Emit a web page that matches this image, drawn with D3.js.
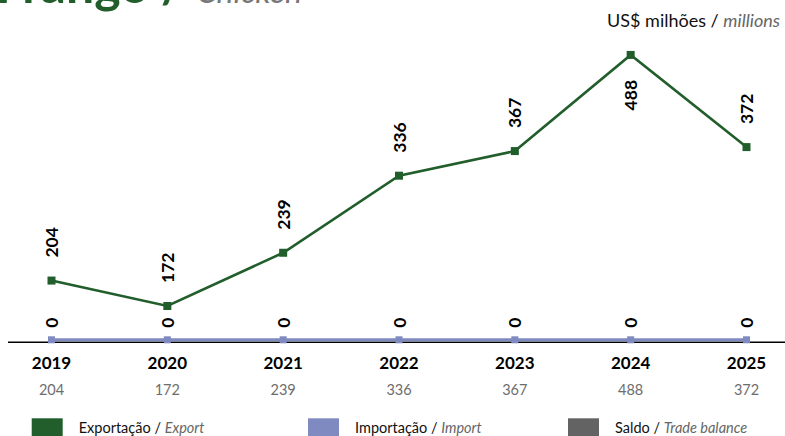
<!DOCTYPE html>
<html>
<head>
<meta charset="utf-8">
<script src="https://cdn.jsdelivr.net/npm/d3@7"></script>
<style>
  html, body { margin: 0; padding: 0; background: #fff; }
  svg { display: block; font-family: Lato, "Open Sans", sans-serif; }
</style>
</head>
<body>
<svg id="chart" width="785" height="436"></svg>
<script>
// Chicken trade, US$ millions
const years = ["2019", "2020", "2021", "2022", "2023", "2024", "2025"];
const exportValues = [204, 172, 239, 336, 367, 488, 372];
const importValues = [0, 0, 0, 0, 0, 0, 0];
const balanceValues = [204, 172, 239, 336, 367, 488, 372];

const legendLabels = [
  { pt: "Exportação / ", en: "Export" },
  { pt: "Importação / ", en: "Import" },
  { pt: "Saldo / ", en: "Trade balance" }
];

const colors = { export: "#215E2B", import: "#7F8AC0", balance: "#636363" };

const svg = d3.select("#chart");
const W = 785;

const x = d3.scalePoint().domain(years).range([51.5, 746.5]);
// export series on its own value axis, import series on a secondary axis
const yExp = d3.scaleLinear().domain([120, 500]).range([347.3, 45.4]);
const yImp = d3.scaleLinear().domain([0, 100]).range([339.8, 100]);

// title (partly above the visible area)
const title = svg.append("text").attr("x", -4).attr("y", 3)
  .style("font-size", "50px");
title.append("tspan").text("Frango / ").attr("fill", "#215E2B").attr("font-weight", 700);
title.append("tspan").text("Chicken").attr("fill", "#777").attr("font-style", "italic")
  .style("font-size", "32px");

// unit
const unit = svg.append("text").attr("x", 780).attr("y", 27).attr("text-anchor", "end")
  .style("font-size", "18px").attr("fill", "#111");
unit.append("tspan").text("US$ milhões / ");
unit.append("tspan").text("millions").attr("font-style", "italic").attr("fill", "#666");

// baseline axis
svg.append("line").attr("x1", 8).attr("x2", W).attr("y1", 342.3).attr("y2", 342.3)
  .attr("stroke", "#000").attr("stroke-width", 1.4);

// import line
svg.append("path")
  .datum(importValues)
  .attr("fill", "none").attr("stroke", colors.import).attr("stroke-width", 3)
  .attr("d", d3.line().x((d, i) => x(years[i])).y(d => yImp(d)));
svg.selectAll(".impPt").data(importValues).enter().append("rect")
  .attr("x", (d, i) => x(years[i]) - 3.5).attr("y", d => yImp(d) - 3.5)
  .attr("width", 7).attr("height", 7).attr("fill", colors.import);

// export line
svg.append("path")
  .datum(exportValues)
  .attr("fill", "none").attr("stroke", colors.export).attr("stroke-width", 2.6)
  .attr("d", d3.line().x((d, i) => x(years[i])).y(d => yExp(d)));
svg.selectAll(".expPt").data(exportValues).enter().append("rect")
  .attr("x", (d, i) => x(years[i]) - 4).attr("y", d => yExp(d) - 4)
  .attr("width", 8).attr("height", 8).attr("fill", colors.export);

// rotated value labels
const maxExp = d3.max(exportValues);
svg.selectAll(".expLbl").data(exportValues).enter().append("text")
  .attr("transform", (d, i) => {
    const px = x(years[i]), py = yExp(d);
    return d === maxExp
      ? `translate(${px},${py + 25}) rotate(-90)`
      : `translate(${px},${py - 23}) rotate(-90)`;
  })
  .attr("text-anchor", d => d === maxExp ? "end" : "start")
  .attr("dominant-baseline", "central")
  .attr("font-weight", 700).style("font-size", "17.5px").attr("fill", "#000")
  .text(d => d);

svg.selectAll(".impLbl").data(importValues).enter().append("text")
  .attr("transform", (d, i) => `translate(${x(years[i])},${yImp(d) - 12}) rotate(-90)`)
  .attr("text-anchor", "start").attr("dominant-baseline", "central")
  .attr("font-weight", 700).style("font-size", "17.5px").attr("fill", "#000")
  .text(d => d);

// category labels and balance row
svg.selectAll(".yr").data(years).enter().append("text")
  .attr("x", d => x(d)).attr("y", 369).attr("text-anchor", "middle")
  .attr("font-weight", 700).style("font-size", "17px").attr("fill", "#000")
  .text(d => d);
svg.selectAll(".bal").data(balanceValues).enter().append("text")
  .attr("x", (d, i) => x(years[i])).attr("y", 395).attr("text-anchor", "middle")
  .style("font-size", "14.5px").attr("fill", "#6d6d6d")
  .text(d => d);

// legend
const legendX = [31.7, 308, 568];
const legendColors = [colors.export, colors.import, colors.balance];
legendLabels.forEach((l, i) => {
  svg.append("rect").attr("x", legendX[i]).attr("y", 418.3).attr("width", 31).attr("height", 20)
    .attr("fill", legendColors[i]);
  const t = svg.append("text").attr("x", legendX[i] + 47).attr("y", 433)
    .style("font-size", "14.5px").attr("fill", "#111");
  t.append("tspan").text(l.pt);
  t.append("tspan").text(l.en).attr("font-style", "italic").attr("fill", "#666");
});
</script>
</body>
</html>
